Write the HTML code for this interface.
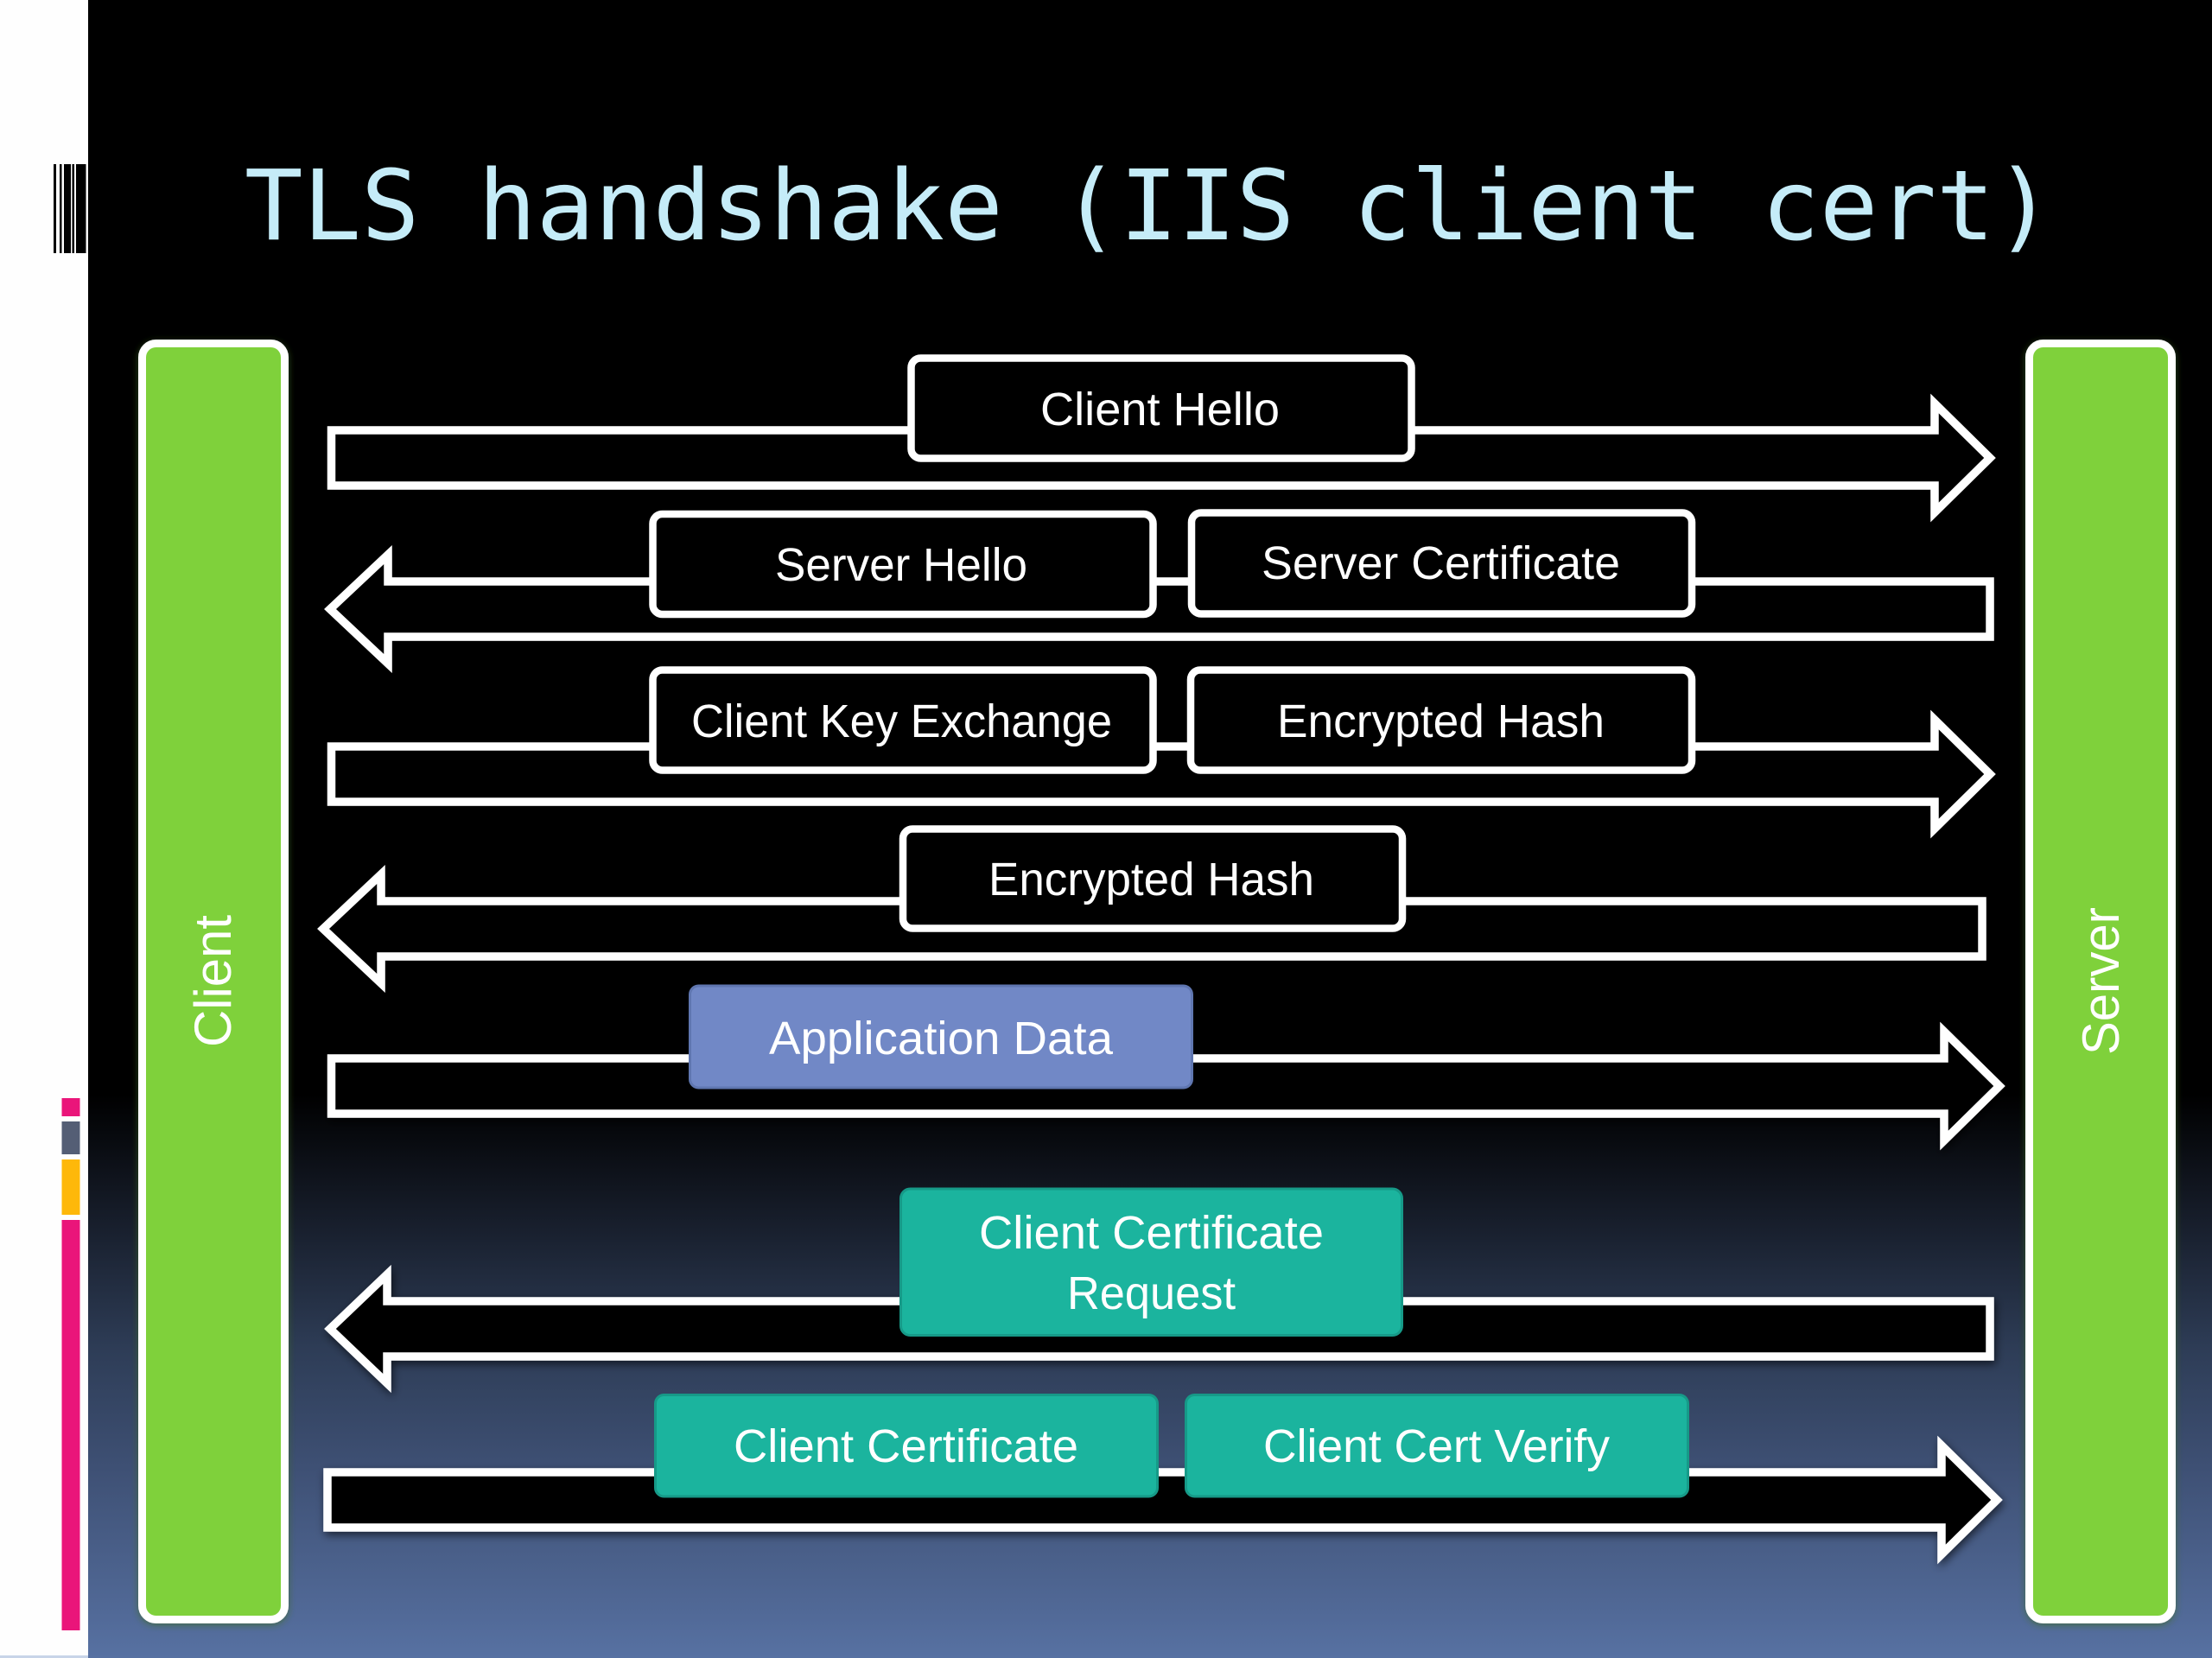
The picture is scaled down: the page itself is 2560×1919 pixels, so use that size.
<!DOCTYPE html>
<html lang="en">
<head>
<meta charset="utf-8">
<title>TLS handshake (IIS client cert)</title>
<style>
html,body{margin:0;padding:0;background:#fff;width:2560px;height:1919px;overflow:hidden}
svg{display:block}
text{font-family:"Liberation Sans",sans-serif;fill:#fff}
.t{font-family:"DejaVu Sans Mono","Liberation Mono",monospace;font-size:112.5px;fill:#c5ecf8}
.l{font-size:54px}
.a{fill:#000;stroke:#fff;stroke-width:9.5;stroke-miterlimit:10;filter:url(#sh)}
.b{fill:#000;stroke:#fff;stroke-width:8.5}
.g{fill:#7fd13b;stroke:#fff;stroke-width:9;filter:url(#gl)}
.tl{fill:#1bb49e;stroke:#169a88;stroke-width:3}
.bl{fill:#7188c6;stroke:#5f76b0;stroke-width:3}
</style>
</head>
<body>
<svg width="2560" height="1919" viewBox="0 0 2560 1919" xmlns="http://www.w3.org/2000/svg">
<defs>
<linearGradient id="bg" x1="0" y1="0" x2="0" y2="1919" gradientUnits="userSpaceOnUse">
<stop offset="0" stop-color="#000"/>
<stop offset="0.66" stop-color="#000"/>
<stop offset="0.74" stop-color="#181f2d"/>
<stop offset="0.815" stop-color="#2e3d57"/>
<stop offset="0.885" stop-color="#3e5074"/>
<stop offset="1" stop-color="#5771a2"/>
</linearGradient>
<filter id="sh" x="-5%" y="-40%" width="110%" height="180%">
<feDropShadow dx="2" dy="4" stdDeviation="5" flood-color="#000" flood-opacity="0.6"/>
</filter>
<filter id="gl" x="-20%" y="-5%" width="140%" height="110%">
<feDropShadow dx="0" dy="2" stdDeviation="4" flood-color="#3d6a20" flood-opacity="0.7"/>
</filter>
</defs>

<rect width="2560" height="1919" fill="#fefefe"/>
<rect x="102" width="2458" height="1919" fill="url(#bg)"/>
<rect x="0" y="1916" width="102" height="3" fill="#c8d4e8"/>

<!-- barcode -->
<g fill="#000">
<rect x="62" y="190" width="3" height="103"/>
<rect x="69" y="190" width="2.5" height="103"/>
<rect x="74" y="190" width="8" height="103"/>
<rect x="83.5" y="190" width="2.5" height="103"/>
<rect x="88" y="190" width="11.5" height="103"/>
</g>

<!-- side bars -->
<rect x="71.5" y="1271" width="21" height="21" fill="#ea157a"/>
<rect x="71.5" y="1298" width="21" height="38" fill="#545e75"/>
<rect x="71.5" y="1342" width="21" height="64" fill="#feb80a"/>
<rect x="71.5" y="1412" width="21" height="475" fill="#ea157a"/>

<text class="t" x="283" y="277" textLength="2093" lengthAdjust="spacingAndGlyphs">TLS handshake (IIS client cert)</text>

<!-- pillars -->
<rect class="g" x="164.5" y="397.5" width="165" height="1477" rx="16"/>
<rect class="g" x="2348.5" y="397.5" width="165" height="1477" rx="16"/>
<text transform="translate(267 1212) rotate(-90)" font-size="60" textLength="153" lengthAdjust="spacingAndGlyphs">Client</text>
<text transform="translate(2452 1221) rotate(-90)" font-size="60" textLength="171" lengthAdjust="spacingAndGlyphs">Server</text>

<!-- arrows -->
<path class="a" d="M383.5 498H2239V467L2303 530L2239 593V562H383.5Z"/>
<path class="a" d="M2303 673H449V642L382 705L449 768V737H2303Z"/>
<path class="a" d="M383.5 864H2239V833L2303 896L2239 959V928H383.5Z"/>
<path class="a" d="M2294 1043H441V1012L374 1075L441 1138V1107H2294Z"/>
<path class="a" d="M383.5 1225H2250V1194L2314 1257L2250 1320V1289H383.5Z"/>
<path class="a" d="M2303 1506H448V1475L382 1538L448 1601V1570H2303Z"/>
<path class="a" d="M379 1704H2247V1673L2311 1736L2247 1799V1768H379Z"/>

<!-- outlined boxes -->
<rect class="b" x="1054.5" y="414.5" width="579" height="116" rx="11"/>
<text class="l" x="1204" y="492" textLength="277" lengthAdjust="spacingAndGlyphs">Client Hello</text>

<rect class="b" x="755.5" y="595" width="579" height="116" rx="11"/>
<text class="l" x="897" y="672" textLength="292" lengthAdjust="spacingAndGlyphs">Server Hello</text>

<rect class="b" x="1379" y="593.5" width="579" height="117" rx="11"/>
<text class="l" x="1460" y="670" textLength="415" lengthAdjust="spacingAndGlyphs">Server Certificate</text>

<rect class="b" x="755.5" y="775.5" width="579" height="116" rx="11"/>
<text class="l" x="800" y="853" textLength="487" lengthAdjust="spacingAndGlyphs">Client Key Exchange</text>

<rect class="b" x="1378" y="775.5" width="580" height="116" rx="11"/>
<text class="l" x="1478" y="853" textLength="379" lengthAdjust="spacingAndGlyphs">Encrypted Hash</text>

<rect class="b" x="1045" y="959.5" width="578" height="115" rx="11"/>
<text class="l" x="1144" y="1036" textLength="377" lengthAdjust="spacingAndGlyphs">Encrypted Hash</text>

<!-- filled boxes -->
<rect class="bl" x="798.5" y="1141" width="581" height="118" rx="10"/>
<text class="l" x="890" y="1220" textLength="398" lengthAdjust="spacingAndGlyphs">Application Data</text>

<rect class="tl" x="1042.5" y="1376" width="580" height="169.5" rx="11"/>
<text class="l" x="1133" y="1445" textLength="399" lengthAdjust="spacingAndGlyphs">Client Certificate</text>
<text class="l" x="1235" y="1515" textLength="195" lengthAdjust="spacingAndGlyphs">Request</text>

<rect class="tl" x="758.5" y="1614.5" width="581" height="117.5" rx="10"/>
<text class="l" x="849" y="1692" textLength="399" lengthAdjust="spacingAndGlyphs">Client Certificate</text>

<rect class="tl" x="1372.5" y="1614.5" width="581" height="117.5" rx="10"/>
<text class="l" x="1462" y="1692" textLength="401" lengthAdjust="spacingAndGlyphs">Client Cert Verify</text>
</svg>
</body>
</html>
